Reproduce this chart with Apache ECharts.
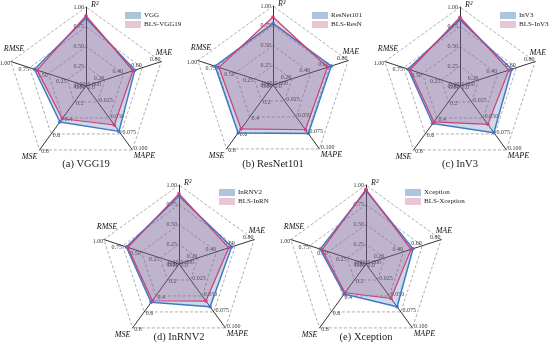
<!DOCTYPE html>
<html><head><meta charset="utf-8">
<script src="https://cdn.jsdelivr.net/npm/echarts@6/dist/echarts.min.js"></script>
<style>html,body{margin:0;padding:0;background:#fff}#c{width:550px;height:350px}</style>
</head><body><div id="c"></div>
<script>
// metrics in clockwise order from top
const metricNames = ['R²', 'MAE', 'MAPE', 'MSE', 'RMSE'];
const metricMax = [1.0, 0.8, 0.1, 0.8, 1.0];
const metricDecimals = [2, 2, 3, 1, 2];
const panelCaptions = ['(a) VGG19', '(b) ResNet101', '(c) InV3', '(d) InRNV2', '(e) Xception'];
const baseNames = ['VGG', 'ResNet101', 'InV3', 'InRNV2', 'Xception'];
const blsNames = ['BLS-VGG19', 'BLS-ResN', 'BLS-InV3', 'BLS-InRN', 'BLS-Xception'];
// values in metric order: R², MAE, MAPE, MSE, RMSE
const baseValues = [
  [0.86, 0.52, 0.071, 0.45, 0.685],
  [0.78, 0.62, 0.076, 0.60, 0.77],
  [0.84, 0.55, 0.073, 0.47, 0.69],
  [0.86, 0.56, 0.067, 0.48, 0.70],
  [0.93, 0.50, 0.067, 0.375, 0.61]
];
const blsValues = [
  [0.89, 0.50, 0.061, 0.41, 0.65],
  [0.86, 0.58, 0.070, 0.55, 0.72],
  [0.87, 0.52, 0.060, 0.45, 0.665],
  [0.89, 0.53, 0.058, 0.46, 0.68],
  [0.945, 0.48, 0.054, 0.36, 0.585]
];

// layout (pixels)
const panelLayout = [
  {cx: 86, cy: 86, lx: 125, ly: 12, ty: 159},
  {cx: 273, cy: 85, lx: 312, ly: 12, ty: 159},
  {cx: 460, cy: 86, lx: 500, ly: 12, ty: 159},
  {cx: 179, cy: 264, lx: 219, ly: 189, ty: 332},
  {cx: 366, cy: 264, lx: 405, ly: 189, ty: 332}
];
const R = 79;
const SERIF = 'Liberation Serif, Times New Roman, serif';
const BLUE_LINE = '#3d77c4', PINK_LINE = '#d43f78';
// axis-name placement per metric (style only)
const nameStyles = [
  {align: 'left', verticalAlign: 'middle', padding: [0, 0, 0, 5]},
  {align: 'center', verticalAlign: 'bottom', padding: [0, 24, 0, 0]},
  {align: 'left', verticalAlign: 'top', padding: [0, 0, 0, 0]},
  {align: 'right', verticalAlign: 'top', padding: [0, 0, 0, 0]},
  {align: 'center', verticalAlign: 'bottom', padding: [0, 0, 8, 10]}
];

// ECharts radar goes counter-clockwise from top: reorder to R², RMSE, MSE, MAPE, MAE
const order = [0, 4, 3, 2, 1];
const fmt = d => (v => Number(v).toFixed(d));

const radars = [], series = [], legends = [], titles = [];
panelLayout.forEach((p, i) => {
  radars.push({
    center: [p.cx, p.cy],
    radius: R,
    shape: 'polygon',
    splitNumber: 4,
    startAngle: 90,
    nameGap: 2,
    axisName: {color: '#111', fontStyle: 'italic', fontFamily: SERIF, fontSize: 8},
    indicator: order.map(k => ({
      name: metricNames[k], min: 0, max: metricMax[k],
      nameTextStyle: Object.assign({}, nameStyles[k]),
      axisLabel: {formatter: fmt(metricDecimals[k])}
    })),
    axisLine: {lineStyle: {color: '#333', width: 1}},
    splitLine: {lineStyle: {color: '#999', type: [3, 2], width: 0.8}},
    splitArea: {show: false},
    axisTick: {show: false},
    axisLabel: {show: true, fontSize: 6, color: '#333', fontFamily: SERIF, margin: 2}
  });
  series.push({
    type: 'radar', radarIndex: i, symbol: 'circle', symbolSize: 3.5,
    data: [
      {name: baseNames[i], value: order.map(k => baseValues[i][k]),
       lineStyle: {color: BLUE_LINE, width: 1.5}, itemStyle: {color: BLUE_LINE},
       areaStyle: {color: 'rgba(95,135,190,0.45)'}},
      {name: blsNames[i], value: order.map(k => blsValues[i][k]),
       lineStyle: {color: PINK_LINE, width: 1.2}, itemStyle: {color: PINK_LINE},
       areaStyle: {color: 'rgba(150,60,110,0.33)'}}
    ]
  });
  legends.push({
    orient: 'vertical', left: p.lx, top: p.ly, padding: 0, itemGap: 2,
    itemWidth: 16, itemHeight: 7, icon: 'rect',
    textStyle: {fontFamily: SERIF, fontSize: 7, color: '#222', padding: [0, 0, 0, -2]},
    data: [
      {name: baseNames[i], itemStyle: {color: '#aec3dc', borderWidth: 0}},
      {name: blsNames[i], itemStyle: {color: '#e8c6d4', borderWidth: 0}}
    ]
  });
  titles.push({
    text: panelCaptions[i], left: p.cx, top: p.ty, textAlign: 'center', padding: 0,
    textStyle: {fontFamily: SERIF, fontSize: 10.5, fontWeight: 'normal', color: '#222'}
  });
});

const chart = echarts.init(document.getElementById('c'), null, {renderer: 'canvas'});
chart.setOption({
  animation: false,
  backgroundColor: '#fff',
  title: titles,
  legend: legends,
  radar: radars,
  series: series
});
</script></body></html>
